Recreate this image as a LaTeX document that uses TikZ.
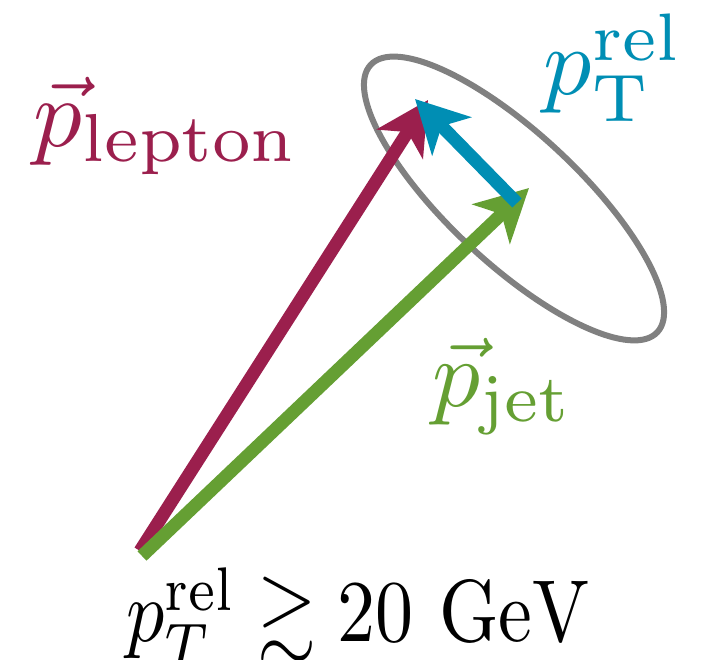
\documentclass[tikz,border=0pt]{standalone}
\usepackage{amssymb}
\usetikzlibrary{arrows.meta}
\definecolor{lepcol}{RGB}{155,31,77}
\definecolor{jetcol}{RGB}{101,159,51}
\definecolor{relcol}{RGB}{0,142,180}
\definecolor{ellcol}{RGB}{128,128,128}
\tikzset{
  vecarrow/.style={line width=13pt, -{Stealth[length=52pt,width=54pt,inset=14pt]}},
  biglabel/.style={inner sep=0pt, anchor=base west}
}
\begin{document}
\begin{tikzpicture}[x=1pt,y=1pt]
\useasboundingbox (0,0) rectangle (709,660);
\coordinate (c) at (514,461.5);
\draw[ellcol, line width=6pt, rotate around={-43:(c)}] (c) ellipse [x radius=196, y radius=65];
\coordinate (olep) at (140,109);
\coordinate (ojet) at (142,104);
\coordinate (tlep) at (428,560);
\coordinate (tjet) at (529,472);
\coordinate (rtail) at (517,457);
\coordinate (rtip) at (415,561);
\draw[vecarrow, lepcol] (olep) -- (tlep);
\draw[vecarrow, jetcol] (ojet) -- (tjet);
\draw[vecarrow, relcol] (rtail) -- (rtip);
\node[biglabel, scale=9.7, text=lepcol] (llep) at (32,513) {$\vec p_{\mathrm{lepton}}$};
\node[biglabel, scale=9.55, text=jetcol] (ljet) at (431,253) {$\vec p_{\mathrm{jet}}$};
\node[biglabel, scale=9.6, text=relcol] (lrel) at (542,565) {$p^{\mathrm{rel}}_{\mathrm{T}}$};
\node[biglabel, xscale=7.6, yscale=8.8] (lcut) at (125,18) {$p_T^{\mathrm{rel}} \gtrsim 20~\mathrm{GeV}$};
\end{tikzpicture}
\end{document}
